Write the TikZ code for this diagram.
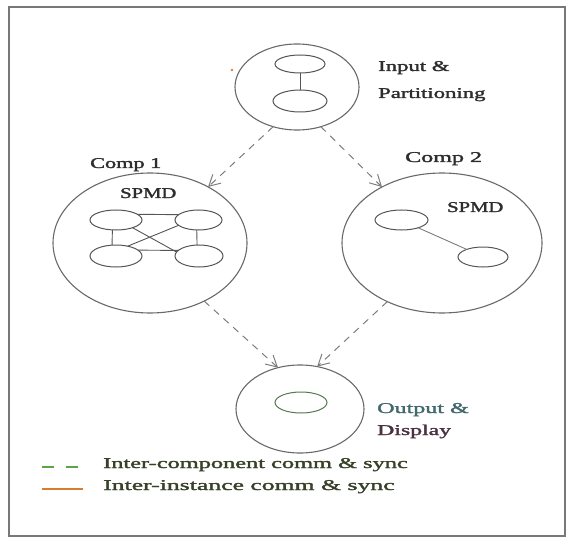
\documentclass[tikz,border=0pt]{standalone}
\usepackage{fontspec}
\usepackage{graphicx}
\usetikzlibrary{shapes.geometric,arrows.meta}
\newfontfamily\scanfont{Liberation Serif}[FakeBold=1.6]

\definecolor{ringgray}{RGB}{105,105,105}
\definecolor{procgray}{RGB}{85,85,85}
\definecolor{flowgray}{RGB}{125,125,125}
\definecolor{framegray}{RGB}{120,120,120}
\definecolor{inkgray}{RGB}{45,45,45}
\definecolor{outink}{RGB}{65,105,110}
\definecolor{dispink}{RGB}{75,50,65}
\definecolor{legendink}{RGB}{55,65,40}
\definecolor{legendgreen}{RGB}{90,165,70}
\definecolor{legendorange}{RGB}{215,125,50}
\definecolor{outproc}{RGB}{85,120,80}

\tikzset{
  ring/.style={ellipse, draw=ringgray, line width=1.1bp, inner sep=0pt, outer sep=0pt},
  proc/.style={ellipse, draw=procgray, line width=1bp, inner sep=0pt, outer sep=0pt},
  link/.style={draw=procgray, line width=0.9bp},
  flow/.style={draw=flowgray, line width=1bp, dash pattern=on 7bp off 6bp,
               -{Straight Barb[length=11bp,width=12bp]}},
  lbl/.style={font=\scanfont\fontsize{15}{17}\selectfont, text=inkgray,
              inner sep=0pt, anchor=base west},
}

\begin{document}
\begin{tikzpicture}[x=1bp,y=-1bp]
  \useasboundingbox (0,0) rectangle (570,538);
  % outer frame
  \draw[framegray, line width=1.3bp] (9,7) rectangle (565,536);

  % input & partitioning stage
  \node[ring, minimum width=124bp, minimum height=86bp] (inp) at (297,87) {};
  \node[proc, minimum width=50bp, minimum height=18bp] (inpA) at (300,64) {};
  \node[proc, minimum width=54bp, minimum height=22bp] (inpB) at (300,101) {};
  \draw[link] (inpA.south) -- (inpB.north);
  \fill[legendorange] (232,70) circle (1.3bp);
  \node[lbl] (inpT1) at (378,71) {\scalebox{1.52}[1]{Input \&}};
  \node[lbl] (inpT2) at (378,98) {\scalebox{1.52}[1]{Partitioning}};

  % component 1
  \node[ring, minimum width=194bp, minimum height=140bp] (c1) at (150,243) {};
  \node[lbl] (c1T) at (90,168) {\scalebox{1.49}[1]{Comp 1}};
  \node[lbl] (c1S) at (120,198) {\scalebox{1.38}[1]{SPMD}};
  \node[proc, minimum width=52bp, minimum height=20bp] (p11) at (116,220) {};
  \node[proc, minimum width=47bp, minimum height=20bp] (p12) at (198.5,220) {};
  \node[proc, minimum width=52bp, minimum height=22bp] (p13) at (116,256) {};
  \node[proc, minimum width=48bp, minimum height=22bp] (p14) at (199,256) {};
  \draw[link] (p11.15) -- (p12.165);
  \draw[link] (p13.15) -- (p14.165);
  \draw[link] (p11.250) -- (p13.110);
  \draw[link] (p12.260) -- (p14.100);
  \draw[link] (p11.-25) -- (p14.170);
  \draw[link] (p13.40) -- (p12.195);

  % component 2
  \node[ring, minimum width=200bp, minimum height=140bp] (c2) at (442,243) {};
  \node[lbl] (c2T) at (405,162) {\scalebox{1.61}[1]{Comp 2}};
  \node[lbl] (c2S) at (447,212) {\scalebox{1.38}[1]{SPMD}};
  \node[proc, minimum width=53bp, minimum height=20bp] (p21) at (401.5,220) {};
  \node[proc, minimum width=50bp, minimum height=20bp] (p22) at (483,257) {};
  \draw[draw=flowgray, line width=0.9bp] (p21.-25) -- (p22.155);

  % output & display stage
  \node[ring, minimum width=128bp, minimum height=88bp] (out) at (300,409) {};
  \node[proc, draw=outproc, minimum width=52bp, minimum height=21bp] (outA) at (301,402.5) {};
  \node[lbl, text=outink] (outT1) at (377,413) {\scalebox{1.61}[1]{Output \&}};
  \node[lbl, text=dispink] (outT2) at (377,435) {\scalebox{1.59}[1]{Display}};

  % inter-component flows
  \draw[flow] (inp.239) -- (c1.44);
  \draw[flow] (inp.301) -- (c2.137);
  \draw[flow] (c1.313) -- (out.118);
  \draw[flow] (c2.227) -- (out.68);

  % legend
  \coordinate (lgA0) at (42,467);
  \coordinate (lgA1) at (80,467);
  \coordinate (lgB0) at (42,489);
  \coordinate (lgB1) at (83,489);
  \draw[legendgreen, line width=1.6bp, dash pattern=on 12bp off 12bp] (lgA0) -- (lgA1);
  \draw[legendorange, line width=1.6bp] (lgB0) -- (lgB1);
  \node[lbl, text=legendink] (lgT1) at (103,468) {\scalebox{1.63}[1]{Inter-component comm \& sync}};
  \node[lbl, text=legendink] (lgT2) at (103,490) {\scalebox{1.72}[1]{Inter-instance comm \& sync}};
\end{tikzpicture}
\end{document}
